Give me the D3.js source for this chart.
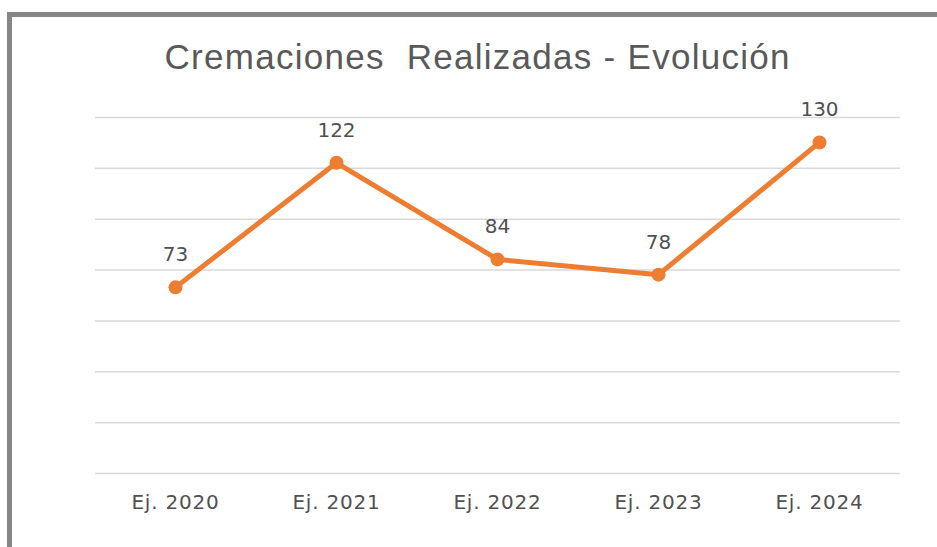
<!DOCTYPE html>
<html>
<head>
<meta charset="utf-8">
<script src="https://cdn.jsdelivr.net/npm/d3@7"></script>
<style>
  html, body { margin: 0; padding: 0; background: #fff; }
  svg { display: block; }
</style>
</head>
<body>
<div id="chart"></div>
<script>
var categories = ['Ej. 2020', 'Ej. 2021', 'Ej. 2022', 'Ej. 2023', 'Ej. 2024'];
var values = [73, 122, 84, 78, 130];
var yTicks = [0, 20, 40, 60, 80, 100, 120, 140];
var title = 'Cremaciones  Realizadas - Evolución';

var width = 937, height = 547;
var margin = {top: 117, right: 37, bottom: 74, left: 95};
var plotW = width - margin.left - margin.right;
var plotH = height - margin.top - margin.bottom;
var textColor = '#595959';
var lineColor = '#ed7d31';

var svg = d3.select('#chart').append('svg')
  .attr('width', width)
  .attr('height', height);

// frame: top and left edges only show in the crop
svg.append('rect')
  .attr('x', 7).attr('y', 12)
  .attr('width', width - 7).attr('height', 5)
  .attr('fill', '#878787');
svg.append('rect')
  .attr('x', 7).attr('y', 12)
  .attr('width', 5).attr('height', height - 12)
  .attr('fill', '#878787');

var x = d3.scaleBand()
  .domain(categories)
  .range([0, plotW]);

var y = d3.scaleLinear()
  .domain([0, 140])
  .range([plotH, 0]);

var g = svg.append('g')
  .attr('transform', 'translate(' + margin.left + ',' + margin.top + ')');

var grid = d3.axisLeft(y)
  .tickValues(yTicks)
  .tickSize(-plotW)
  .tickFormat('');

g.append('g')
  .attr('class', 'grid')
  .call(grid)
  .call(function (sel) {
    sel.select('.domain').remove();
    sel.selectAll('line')
      .attr('stroke', '#d9d9d9')
      .attr('stroke-width', 1.5);
  });

var xAxis = d3.axisBottom(x).tickSize(0).tickPadding(22);

g.append('g')
  .attr('transform', 'translate(0,' + plotH + ')')
  .call(xAxis)
  .call(function (sel) {
    sel.select('.domain').remove();
    sel.selectAll('text')
      .attr('fill', '#505050')
      .attr('font-family', 'DejaVu Sans, sans-serif')
      .attr('font-size', 20)
      .attr('letter-spacing', 0.8);
  });

var cx = function (d, i) { return x(categories[i]) + x.bandwidth() / 2; };

var line = d3.line()
  .x(cx)
  .y(function (d) { return y(d); });

g.append('path')
  .datum(values)
  .attr('fill', 'none')
  .attr('stroke', lineColor)
  .attr('stroke-width', 5)
  .attr('stroke-linejoin', 'round')
  .attr('d', line);

g.selectAll('circle.pt')
  .data(values)
  .enter().append('circle')
  .attr('class', 'pt')
  .attr('cx', cx)
  .attr('cy', function (d) { return y(d); })
  .attr('r', 7)
  .attr('fill', lineColor);

g.selectAll('text.lbl')
  .data(values)
  .enter().append('text')
  .attr('class', 'lbl')
  .attr('x', cx)
  .attr('y', function (d) { return y(d) - 26; })
  .attr('text-anchor', 'middle')
  .attr('fill', '#505050')
  .attr('font-family', 'DejaVu Sans, sans-serif')
  .attr('font-size', 20)
  .text(function (d) { return d; });

svg.append('text')
  .attr('x', 477)
  .attr('y', 69)
  .attr('text-anchor', 'middle')
  .attr('fill', textColor)
  .attr('font-family', 'Liberation Sans, Arial, sans-serif')
  .attr('font-size', 35)
  .attr('textLength', 625)
  .attr('lengthAdjust', 'spacing')
  .style('white-space', 'pre')
  .text(title);
</script>
</body>
</html>
